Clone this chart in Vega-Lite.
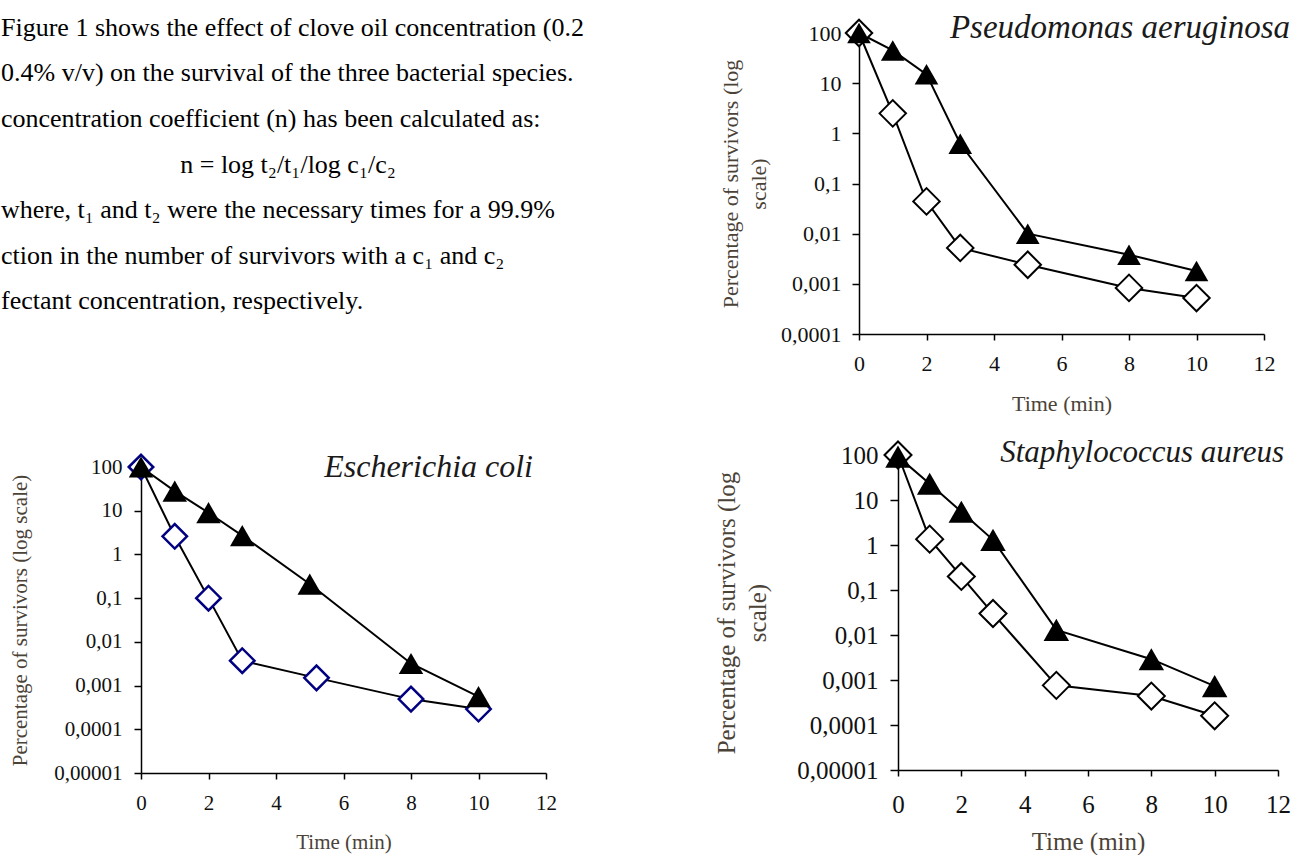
{
  "$schema": "https://vega.github.io/schema/vega-lite/v6.json",
  "autosize": {"type": "none"},
  "padding": {"left": 141, "top": 33, "right": 1153, "bottom": 822},
  "background": "white",
  "config": {
    "font": "Liberation Serif",
    "view": {"stroke": null},
    "title": {"font": "Liberation Serif", "fontStyle": "italic", "fontWeight": "normal", "color": "#1a1a1a", "anchor": "end", "frame": "group", "baseline": "middle"},
    "axis": {
      "grid": false,
      "domainColor": "black",
      "domainWidth": 1.5,
      "tickColor": "black",
      "tickWidth": 1.5,
      "labelFont": "Liberation Serif",
      "labelColor": "#111111",
      "labelFlush": false,
      "labelOverlap": false,
      "labelBound": false,
      "titleFont": "Liberation Serif",
      "titleFontWeight": "normal",
      "titleColor": "#4b4338"
    }
  },
  "datasets": {
    "pts": [
      {"sp": "P", "conc": "0.2%", "t": 0, "pct": 100},
      {"sp": "P", "conc": "0.2%", "t": 1, "pct": 45},
      {"sp": "P", "conc": "0.2%", "t": 2, "pct": 15},
      {"sp": "P", "conc": "0.2%", "t": 3, "pct": 0.62},
      {"sp": "P", "conc": "0.2%", "t": 5, "pct": 0.01},
      {"sp": "P", "conc": "0.2%", "t": 8, "pct": 0.0038},
      {"sp": "P", "conc": "0.2%", "t": 10, "pct": 0.0018},
      {"sp": "P", "conc": "0.4%", "t": 0, "pct": 100},
      {"sp": "P", "conc": "0.4%", "t": 1, "pct": 2.5},
      {"sp": "P", "conc": "0.4%", "t": 2, "pct": 0.044},
      {"sp": "P", "conc": "0.4%", "t": 3, "pct": 0.0052},
      {"sp": "P", "conc": "0.4%", "t": 5, "pct": 0.0024},
      {"sp": "P", "conc": "0.4%", "t": 8, "pct": 0.00083},
      {"sp": "P", "conc": "0.4%", "t": 10, "pct": 0.00052},
      {"sp": "E", "conc": "0.2%", "t": 0, "pct": 100},
      {"sp": "E", "conc": "0.2%", "t": 1, "pct": 28},
      {"sp": "E", "conc": "0.2%", "t": 2, "pct": 9},
      {"sp": "E", "conc": "0.2%", "t": 3, "pct": 2.7},
      {"sp": "E", "conc": "0.2%", "t": 5, "pct": 0.21},
      {"sp": "E", "conc": "0.2%", "t": 8, "pct": 0.0032},
      {"sp": "E", "conc": "0.2%", "t": 10, "pct": 0.00056},
      {"sp": "E", "conc": "0.4%", "t": 0, "pct": 100},
      {"sp": "E", "conc": "0.4%", "t": 1, "pct": 2.6},
      {"sp": "E", "conc": "0.4%", "t": 2, "pct": 0.1},
      {"sp": "E", "conc": "0.4%", "t": 3, "pct": 0.0037},
      {"sp": "E", "conc": "0.4%", "t": 5.2, "pct": 0.0015},
      {"sp": "E", "conc": "0.4%", "t": 8, "pct": 0.00049},
      {"sp": "E", "conc": "0.4%", "t": 10, "pct": 0.00029},
      {"sp": "S", "conc": "0.2%", "t": 0, "pct": 92},
      {"sp": "S", "conc": "0.2%", "t": 1, "pct": 23},
      {"sp": "S", "conc": "0.2%", "t": 2, "pct": 5.5},
      {"sp": "S", "conc": "0.2%", "t": 3, "pct": 1.3},
      {"sp": "S", "conc": "0.2%", "t": 5, "pct": 0.013},
      {"sp": "S", "conc": "0.2%", "t": 8, "pct": 0.0029},
      {"sp": "S", "conc": "0.2%", "t": 10, "pct": 0.00073},
      {"sp": "S", "conc": "0.4%", "t": 0, "pct": 100},
      {"sp": "S", "conc": "0.4%", "t": 1, "pct": 1.35},
      {"sp": "S", "conc": "0.4%", "t": 2, "pct": 0.2},
      {"sp": "S", "conc": "0.4%", "t": 3, "pct": 0.03},
      {"sp": "S", "conc": "0.4%", "t": 5, "pct": 0.00076},
      {"sp": "S", "conc": "0.4%", "t": 8, "pct": 0.00044},
      {"sp": "S", "conc": "0.4%", "t": 10, "pct": 0.00016}
    ],
    "lines": [
      {"line": 1, "kind": "body", "text": "Figure 1 shows the effect of clove oil concentration (0.2"},
      {"line": 2, "kind": "body", "text": "0.4% v/v) on the survival of the three bacterial species."},
      {"line": 3, "kind": "body", "text": "concentration coefficient (n) has been calculated as:"},
      {"line": 4, "kind": "formula", "text": "n = log t₂/t₁/log c₁/c₂"},
      {"line": 5, "kind": "body", "text": "where, t₁ and t₂ were the necessary times for a 99.9%"},
      {"line": 6, "kind": "body", "text": "ction in the number of survivors with a c₁ and c₂"},
      {"line": 7, "kind": "body", "text": "fectant concentration, respectively."}
    ]
  },
  "concat": [
    {
      "width": 366,
      "height": 301,
      "data": {"name": "lines"},
      "encoding": {
        "y": {"field": "line", "type": "quantitative", "scale": {"domain": [1.11, 7.725], "reverse": true, "nice": false, "zero": false}, "axis": null},
        "text": {"field": "text"}
      },
      "layer": [
        {
          "transform": [{"filter": "datum.kind === 'body'"}],
          "mark": {"type": "text", "align": "left", "baseline": "middle", "font": "Liberation Serif", "fontSize": 26, "color": "black"},
          "encoding": {"x": {"value": -140}}
        },
        {
          "transform": [{"filter": "datum.kind === 'formula'"}],
          "mark": {"type": "text", "align": "center", "baseline": "middle", "font": "Liberation Serif", "fontSize": 26, "color": "black"},
          "encoding": {"x": {"value": 147}}
        }
      ]
    },
    {
      "width": 366,
      "height": 301,
      "data": {"name": "pts"},
      "transform": [{"filter": "datum.sp === 'P'"}],
      "title": {"text": "Pseudomonas aeruginosa", "fontSize": 33, "offset": -29, "dx": 26},
      "encoding": {
        "x": {"field": "t", "type": "quantitative", "scale": {"domain": [0, 12], "nice": false, "zero": false, "range": [-39, 366]},
              "axis": {"values": [0, 2, 4, 6, 8, 10, 12], "tickSize": 6, "labelPadding": 13, "labelFontSize": 22, "title": "Time (min)", "titleFontSize": 22, "titlePadding": 19}},
        "y": {"field": "pct", "type": "quantitative", "scale": {"type": "log", "domain": [0.0001, 100], "nice": false},
              "axis": {"offset": 39, "values": [0.0001, 0.001, 0.01, 0.1, 1, 10, 100], "format": "~g", "labelExpr": "replace(datum.label, '.', ',')", "tickSize": 7, "labelPadding": 11, "labelFontSize": 22, "title": ["Percentage of survivors (log", "scale)"], "titleFontSize": 22, "titleLineHeight": 28, "titlePadding": 10}}
      },
      "layer": [
        {"mark": {"type": "line", "color": "black", "strokeWidth": 2}, "encoding": {"detail": {"field": "conc"}}},
        {"transform": [{"filter": "datum.conc === '0.4%'"}], "mark": {"type": "point", "shape": "diamond", "size": 700, "filled": true, "fill": "white", "stroke": "black", "strokeWidth": 2, "opacity": 1}},
        {"transform": [{"filter": "datum.conc === '0.2%'"}], "mark": {"type": "point", "shape": "triangle-up", "size": 560, "filled": true, "color": "black", "opacity": 1}}
      ]
    },
    {
      "width": 405,
      "height": 318,
      "data": {"name": "pts"},
      "transform": [{"filter": "datum.sp === 'E'"}],
      "title": {"text": "Escherichia coli", "fontSize": 32, "offset": -34, "dx": -13},
      "encoding": {
        "x": {"field": "t", "type": "quantitative", "scale": {"domain": [0, 12], "nice": false, "zero": false},
              "axis": {"values": [0, 2, 4, 6, 8, 10, 12], "tickSize": 6, "labelPadding": 13, "labelFontSize": 21, "title": "Time (min)", "titleFontSize": 21, "titlePadding": 18}},
        "y": {"field": "pct", "type": "quantitative", "scale": {"type": "log", "domain": [0.00001, 100], "nice": false, "range": [318, 12]},
              "axis": {"values": [0.00001, 0.0001, 0.001, 0.01, 0.1, 1, 10, 100], "format": "~g", "labelExpr": "replace(datum.label, '.', ',')", "tickSize": 7, "labelPadding": 12, "labelFontSize": 21, "title": "Percentage of survivors (log scale)", "titleFontSize": 21, "titlePadding": 23}}
      },
      "layer": [
        {"mark": {"type": "line", "color": "black", "strokeWidth": 2}, "encoding": {"detail": {"field": "conc"}}},
        {"transform": [{"filter": "datum.conc === '0.4%'"}], "mark": {"type": "point", "shape": "diamond", "size": 600, "filled": true, "fill": "white", "stroke": "#000080", "strokeWidth": 2.5, "opacity": 1}},
        {"transform": [{"filter": "datum.conc === '0.2%'"}], "mark": {"type": "point", "shape": "triangle-up", "size": 600, "filled": true, "color": "black", "opacity": 1}}
      ]
    },
    {
      "width": 380,
      "height": 315,
      "data": {"name": "pts"},
      "transform": [{"filter": "datum.sp === 'S'"}],
      "title": {"text": "Staphylococcus aureus", "fontSize": 31, "offset": -31, "dx": 6},
      "encoding": {
        "x": {"field": "t", "type": "quantitative", "scale": {"domain": [0, 12], "nice": false, "zero": false},
              "axis": {"values": [0, 2, 4, 6, 8, 10, 12], "tickSize": 6, "labelPadding": 16, "labelFontSize": 25, "title": "Time (min)", "titleFontSize": 25, "titlePadding": 12}},
        "y": {"field": "pct", "type": "quantitative", "scale": {"type": "log", "domain": [0.00001, 100], "nice": false},
              "axis": {"values": [0.00001, 0.0001, 0.001, 0.01, 0.1, 1, 10, 100], "format": "~g", "labelExpr": "replace(datum.label, '.', ',')", "tickSize": 8, "labelPadding": 12, "labelFontSize": 25, "title": ["Percentage of survivors (log", "scale)"], "titleFontSize": 25, "titleLineHeight": 31, "titlePadding": 26}}
      },
      "layer": [
        {"mark": {"type": "line", "color": "black", "strokeWidth": 2}, "encoding": {"detail": {"field": "conc"}}},
        {"transform": [{"filter": "datum.conc === '0.4%'"}], "mark": {"type": "point", "shape": "diamond", "size": 729, "filled": true, "fill": "white", "stroke": "black", "strokeWidth": 2, "opacity": 1}},
        {"transform": [{"filter": "datum.conc === '0.2%'"}], "mark": {"type": "point", "shape": "triangle-up", "size": 650, "filled": true, "color": "black", "opacity": 1}}
      ]
    }
  ],
  "columns": 2,
  "spacing": {"row": 121, "column": 352},
  "bounds": "flush"
}
